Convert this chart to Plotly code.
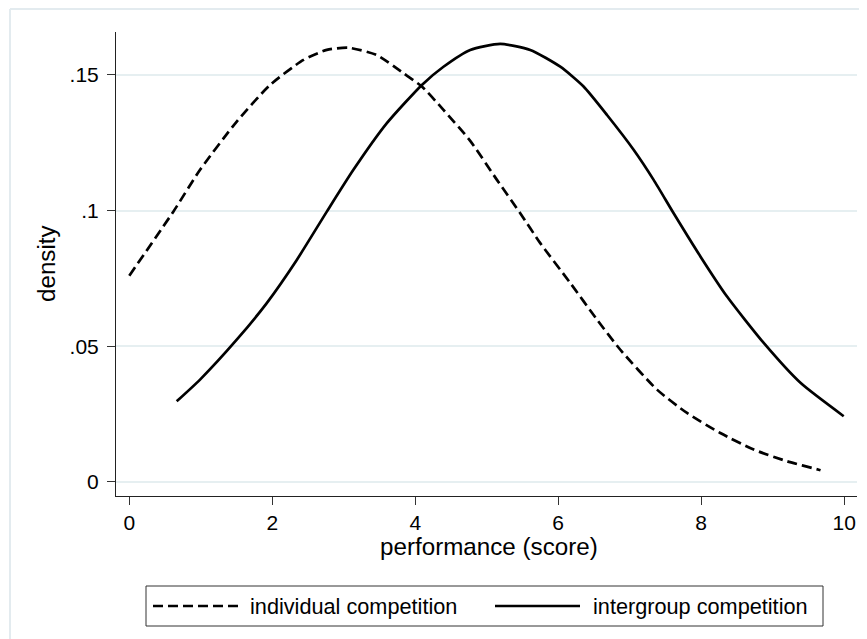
import plotly.graph_objects as go

# individual competition (dashed)
ind_x = [0.0, 0.616, 0.99, 1.503, 1.97, 2.436, 2.763, 3.065, 3.463, 3.835, 4.093, 4.395,
         4.769, 5.143, 5.469, 5.749, 6.169, 6.543, 6.869, 7.382, 7.802, 8.268, 8.735,
         9.202, 9.645, 9.67]
ind_y = [0.0760, 0.0996, 0.1150, 0.1328, 0.1463, 0.1555, 0.1592, 0.1600, 0.1573, 0.1506,
         0.1457, 0.1371, 0.1257, 0.1113, 0.0990, 0.0880, 0.0733, 0.0598, 0.0487, 0.0340,
         0.0254, 0.0180, 0.0119, 0.0076, 0.0045, 0.0043]

# intergroup competition (solid)
grp_x = [0.663, 0.99, 1.503, 1.923, 2.343, 2.763, 3.135, 3.603, 4.093, 4.395, 4.769,
         5.189, 5.609, 6.029, 6.355, 6.683, 7.055, 7.335, 7.615, 7.989, 8.362, 8.875,
         9.389, 9.994]
grp_y = [0.0297, 0.0377, 0.0524, 0.0659, 0.0818, 0.0996, 0.1150, 0.1322, 0.1463, 0.1530,
         0.1592, 0.1614, 0.1592, 0.1530, 0.1457, 0.1352, 0.1224, 0.1113, 0.0990, 0.0831,
         0.0683, 0.0512, 0.0365, 0.0242]

x_ticks = [0, 2, 4, 6, 8, 10]
y_ticks = [0, 0.05, 0.1, 0.15]
y_tick_labels = ["0", ".05", ".1", ".15"]
series_names = ["individual competition", "intergroup competition"]
x_title = "performance (score)"
y_title = "density"

FONT = "Arial, Liberation Sans, sans-serif"
DASH = "10px,5px"
TICK_SIZE = 21
TITLE_SIZE = 24.2
LEG_SIZE = 21.7

fig = go.Figure()
fig.add_trace(go.Scatter(x=ind_x, y=ind_y, mode="lines", name=series_names[0],
                         line=dict(color="black", width=2.7, dash=DASH, shape="spline", smoothing=0.6)))
fig.add_trace(go.Scatter(x=grp_x, y=grp_y, mode="lines", name=series_names[1],
                         line=dict(color="black", width=2.7, shape="spline", smoothing=0.6)))

OFF = 8  # page body margin offset
W, H = 867 - OFF, 639 - OFF
L, R, T, B = 116 - OFF, 10, 32 - OFF, 143
pw, ph = W - L - R, H - T - B

def px(xp):
    return (xp - OFF - L) / pw

def py(yp):
    return (H - B - (yp - OFF)) / ph

frame_col = "#e3ebef"
shapes = [
    # outer frame (top and left edges)
    dict(type="line", xref="paper", yref="paper", x0=px(10), x1=px(880), y0=py(9), y1=py(9),
         line=dict(color=frame_col, width=2), layer="below"),
    dict(type="line", xref="paper", yref="paper", x0=px(10), x1=px(10), y0=py(9), y1=py(660),
         line=dict(color=frame_col, width=2), layer="below"),
    # legend box
    dict(type="rect", xref="paper", yref="paper", x0=px(146), x1=px(823), y0=py(626), y1=py(586),
         line=dict(color="#333333", width=1), fillcolor="white"),
    dict(type="line", xref="paper", yref="paper", x0=px(153), x1=px(238), y0=py(606), y1=py(606),
         line=dict(color="black", width=2.7, dash=DASH)),
    dict(type="line", xref="paper", yref="paper", x0=px(495), x1=px(580), y0=py(606), y1=py(606),
         line=dict(color="black", width=2.7)),
]

annotations = [
    dict(text=series_names[0], xref="paper", yref="paper", x=px(248), y=py(606),
         xanchor="left", yanchor="middle", showarrow=False, font=dict(size=LEG_SIZE, color="black", family=FONT)),
    dict(text=series_names[1], xref="paper", yref="paper", x=px(591), y=py(606),
         xanchor="left", yanchor="middle", showarrow=False, font=dict(size=LEG_SIZE, color="black", family=FONT)),
    dict(text=x_title, xref="paper", yref="paper", x=px(489), y=py(546),
         xanchor="center", yanchor="middle", showarrow=False, font=dict(size=TITLE_SIZE, color="black", family=FONT)),
    dict(text=y_title, xref="paper", yref="paper", x=px(47), y=py(263), textangle=-90,
         xanchor="center", yanchor="middle", showarrow=False, font=dict(size=TITLE_SIZE, color="black", family=FONT)),
]

fig.update_layout(
    width=W, height=H,
    margin=dict(l=L, r=R, t=T, b=B, pad=0),
    paper_bgcolor="white", plot_bgcolor="white",
    showlegend=False,
    font=dict(family=FONT, size=TICK_SIZE, color="black"),
    shapes=shapes, annotations=annotations,
)
fig.update_xaxes(range=[-0.186, 10.18], tickvals=x_ticks, ticks="outside", ticklen=8, tickwidth=1,
                 tickcolor="#333333", showline=True, linecolor="#222222", linewidth=1,
                 showgrid=False, zeroline=False, tickfont=dict(size=TICK_SIZE, color="black"))
fig.update_yaxes(range=[-0.0052, 0.1658], tickvals=y_ticks, ticktext=y_tick_labels, ticks="outside",
                 ticklen=8, tickwidth=1, tickcolor="#333333", showline=True, linecolor="#222222",
                 linewidth=1, showgrid=True, gridcolor="#e6eff1", gridwidth=2, zeroline=False,
                 tickfont=dict(size=TICK_SIZE, color="black"), ticklabelstandoff=4)

fig.write_html("out.html")
